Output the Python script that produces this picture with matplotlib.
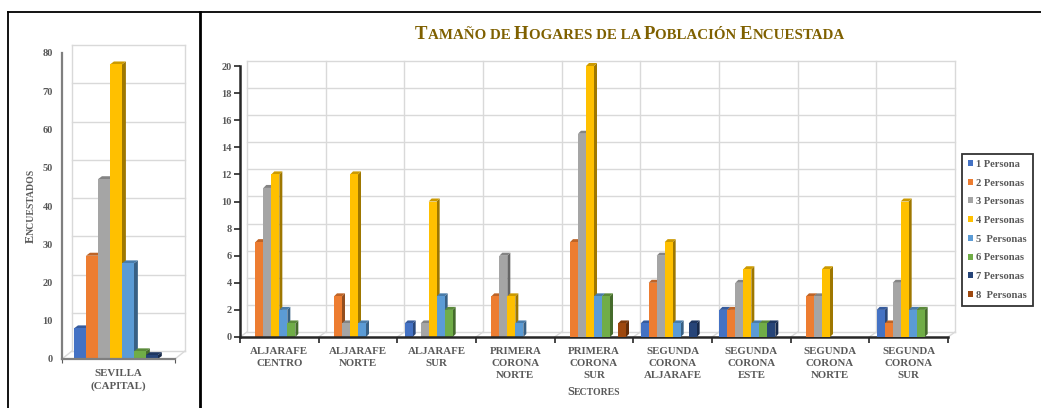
import numpy as np
import matplotlib
matplotlib.use('Agg')
import matplotlib.pyplot as plt
import matplotlib.colors as mcolors
from matplotlib.patches import Rectangle, Polygon, Patch
from matplotlib.lines import Line2D

plt.rcParams['font.family'] = 'Liberation Serif'
plt.rcParams['font.weight'] = 'bold'

W, H = 1041, 408

# --- datos ---
series_labels = ['1 Persona', '2 Personas', '3 Personas', '4 Personas',
                 '5  Personas', '6 Personas', '7 Personas', '8  Personas']
series_colors = ['#4472C4', '#ED7D31', '#A5A5A5', '#FFC000',
                 '#5B9BD5', '#70AD47', '#264478', '#9E480E']

sevilla_label = ['SEVILLA\n(CAPITAL)']
sevilla_values = [8, 27, 47, 77, 25, 2, 1, 0]

sectores = ['ALJARAFE\nCENTRO', 'ALJARAFE\nNORTE', 'ALJARAFE\nSUR',
            'PRIMERA\nCORONA\nNORTE', 'PRIMERA\nCORONA\nSUR',
            'SEGUNDA\nCORONA\nALJARAFE', 'SEGUNDA\nCORONA\nESTE',
            'SEGUNDA\nCORONA\nNORTE', 'SEGUNDA\nCORONA\nSUR']
# una lista por tamaño de hogar, un valor por sector
p1 = [0, 0, 1, 0, 0, 1, 2, 0, 2]
p2 = [7, 3, 0, 3, 7, 4, 2, 3, 1]
p3 = [11, 1, 1, 6, 15, 6, 4, 3, 4]
p4 = [12, 12, 10, 3, 20, 7, 5, 5, 10]
p5 = [2, 1, 3, 1, 3, 1, 1, 0, 2]
p6 = [1, 0, 2, 0, 3, 0, 1, 0, 2]
p7 = [0, 0, 0, 0, 0, 1, 1, 0, 0]
p8 = [0, 0, 0, 0, 1, 0, 0, 0, 0]
sector_series = [p1, p2, p3, p4, p5, p6, p7, p8]

title = 'Tamaño de Hogares de la Población Encuestada'
xlabel = 'Sectores'
ylabel = 'Encuestados'

text_gray = '#595959'
grid_gray = '#d9d9d9'


def fx(px):
    return px / W


def fy(py):
    return 1 - py / H


def shade(c, f):
    r, g, b = mcolors.to_rgb(c)
    return (r * f, g * f, b * f)


def px_to_data(ax, dxp, dyp):
    inv = ax.transData.inverted()
    x0, y0 = inv.transform((0, 0))
    x1, y1 = inv.transform((dxp, dyp))
    return x1 - x0, y1 - y0


def draw_walls(ax, xmax, ymax, yticks, xbounds, wall_px):
    """pared del fondo y suelo con efecto 3D"""
    dx, dy = px_to_data(ax, *wall_px)
    kw = dict(color=grid_gray, lw=1.0, zorder=0.5, clip_on=False)
    for y in yticks:
        ax.plot([dx, xmax + dx], [y + dy, y + dy], **kw)
    for x in xbounds:
        ax.plot([x + dx, x + dx], [dy, ymax + dy], **kw)
        ax.plot([x, x + dx], [0, dy], **kw)


def draw_bar3d(ax, x, w, v, color, depth_px, z):
    if v <= 0:
        return
    ddx, ddy = px_to_data(ax, *depth_px)
    ax.add_patch(Polygon([(x + w, 0), (x + w + ddx, ddy), (x + w + ddx, v + ddy), (x + w, v)],
                         closed=True, facecolor=shade(color, 0.62), edgecolor='none',
                         zorder=z, clip_on=False))
    ax.add_patch(Polygon([(x, v), (x + ddx, v + ddy), (x + w + ddx, v + ddy), (x + w, v)],
                         closed=True, facecolor=shade(color, 0.8), edgecolor='none',
                         zorder=z, clip_on=False))
    ax.add_patch(Rectangle((x, 0), w, v, facecolor=color, edgecolor='none',
                           zorder=z + 0.1, clip_on=False))


def text_width_px(fig, s, size):
    r = fig.canvas.get_renderer()
    t = fig.text(0, 0, s + '|', fontsize=size)
    w1 = t.get_window_extent(r).width
    t.set_text('|')
    w2 = t.get_window_extent(r).width
    t.remove()
    return w1 - w2


def small_caps(fig, xpx, ypx, text, big, small, color, rotation=0):
    runs = []
    for ch in text:
        size = big if ch.isupper() else small
        if runs and runs[-1][1] == size:
            runs[-1][0] += ch
        else:
            runs.append([ch, size])
    widths = [text_width_px(fig, s.upper(), size) for s, size in runs]
    total = sum(widths)
    if rotation == 0:
        pos = xpx - total / 2
        for (s, size), wd in zip(runs, widths):
            fig.text(fx(pos), fy(ypx), s.upper(), fontsize=size, color=color,
                     ha='left', va='baseline')
            pos += wd
    else:
        # de abajo hacia arriba
        pos = ypx + total / 2
        for (s, size), wd in zip(runs, widths):
            fig.text(fx(xpx), fy(pos), s.upper(), fontsize=size, color=color,
                     rotation=90, rotation_mode='anchor', ha='left', va='baseline')
            pos -= wd


fig = plt.figure(figsize=(W / 100, H / 100), dpi=100)

# --- grafico izquierdo: Sevilla capital ---
axl = fig.add_axes([fx(62), fy(359), 113 / W, 306 / H])
axl.set_xlim(0, 1)
axl.set_ylim(0, 80)
axl.patch.set_alpha(0)
draw_walls(axl, 1, 80, np.arange(0, 81, 10), [0, 1], (10, 8))
bw = 0.106
for j, (v, c) in enumerate(zip(sevilla_values, series_colors)):
    draw_bar3d(axl, 0.106 + j * bw, bw, v, c, (4, 3), 2 + j * 0.2)
axl.set_yticks(np.arange(0, 81, 10))
axl.set_xticks([0, 1])
axl.set_xticklabels([])
axl.set_xticks([0.5], minor=True)
axl.set_xticklabels(sevilla_label, minor=True, fontsize=7.8, color=text_gray, linespacing=1.45)
axl.tick_params(axis='x', which='minor', length=0, pad=7)
axl.tick_params(axis='x', which='major', length=3, color='#595959')
axl.tick_params(axis='y', length=0, pad=6.5, labelsize=7.5, labelcolor=text_gray)
for s in ['top', 'right']:
    axl.spines[s].set_visible(False)
for s in ['left', 'bottom']:
    axl.spines[s].set_color('#7f7f7f')
    axl.spines[s].set_linewidth(1.6)
    axl.spines[s].set_zorder(10)

# --- grafico derecho: sectores ---
axr = fig.add_axes([fx(240), fy(337), 708 / W, 271 / H])
n = len(sectores)
axr.set_xlim(0, n)
axr.set_ylim(0, 20)
axr.patch.set_alpha(0)
draw_walls(axr, n, 20, np.arange(0, 21, 2), range(n + 1), (7, 5))
bw = 0.1017
for i in range(n):
    for j, vals in enumerate(sector_series):
        x = i + 0.5 - 4 * bw + j * bw
        draw_bar3d(axr, x, bw, vals[i], series_colors[j], (3, 3), 2 + i * 2 + j * 0.2)
axr.set_yticks(np.arange(0, 21, 2))
axr.set_xticks(range(n + 1))
axr.set_xticklabels([])
axr.set_xticks(np.arange(n) + 0.5, minor=True)
axr.set_xticklabels(sectores, minor=True, fontsize=7.8, color=text_gray, linespacing=1.45)
axr.tick_params(axis='x', which='minor', length=0, pad=7)
axr.tick_params(axis='x', which='major', length=4, width=1.2, color='#262626')
axr.tick_params(axis='y', length=4, width=1.2, color='#262626', pad=2,
                labelsize=7.5, labelcolor=text_gray)
for s in ['top', 'right']:
    axr.spines[s].set_visible(False)
for s in ['left', 'bottom']:
    axr.spines[s].set_color('#262626')
    axr.spines[s].set_linewidth(1.8)
    axr.spines[s].set_zorder(10)

# --- leyenda ---
handles = [Patch(facecolor=c, edgecolor='none') for c in series_colors]
leg = fig.legend(handles, series_labels, loc='upper left',
                 bbox_to_anchor=(fx(962), fy(154)), fontsize=7.6,
                 handlelength=0.5, handleheight=0.5, handletextpad=0.3,
                 labelspacing=0.92, borderpad=0.55, borderaxespad=0,
                 fancybox=False, frameon=True)
leg.get_frame().set_edgecolor('black')
leg.get_frame().set_linewidth(1.3)
for t in leg.get_texts():
    t.set_color(text_gray)

# --- titulos ---
small_caps(fig, 630, 39, title, 13.5, 10.8, '#7f6000')
small_caps(fig, 594, 395, xlabel, 8.8, 7, text_gray)
small_caps(fig, 34, 206, ylabel, 8.8, 7, text_gray, rotation=90)

# --- bordes de la tabla ---
for (x0, y0, x1, y1, lw) in [(8, 12, W, 12, 1.3), (8, 12, 8, H, 1.3), (200, 12, 200, H, 2.0)]:
    fig.add_artist(Line2D([fx(x0), fx(x1)], [fy(y0), fy(y1)], color='black', lw=lw,
                          transform=fig.transFigure))

fig.savefig('out.png', dpi=100)
